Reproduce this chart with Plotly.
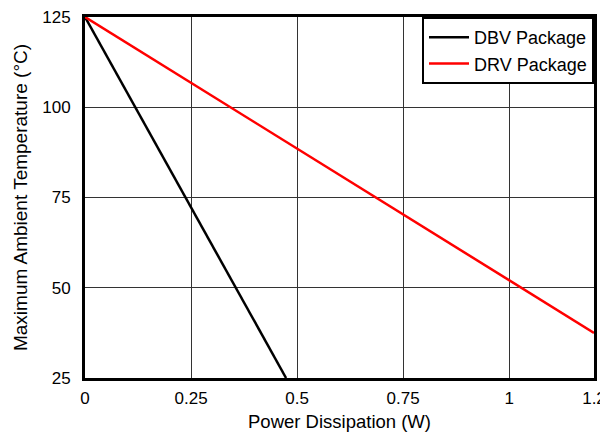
import plotly.graph_objects as go

# power dissipation (W) vs max ambient temperature (°C)
dbv_power = [0, 0.474]
dbv_temp = [125, 25]
drv_power = [0, 1.2]
drv_temp = [125, 37.5]

x_ticks = [0, 0.25, 0.5, 0.75, 1, 1.2]
x_ticktext = ["0", "0.25", "0.5", "0.75", "1", "1.2"]
y_ticks = [25, 50, 75, 100, 125]

FONT = "Liberation Sans, Arial, sans-serif"

fig = go.Figure()
fig.add_trace(go.Scatter(x=dbv_power, y=dbv_temp, mode="lines", name="DBV Package",
                         line=dict(color="black", width=2.5)))
fig.add_trace(go.Scatter(x=drv_power, y=drv_temp, mode="lines", name="DRV Package",
                         line=dict(color="#ff0000", width=2.5)))

# page body has an 8px margin, so the figure is 8px smaller and margins shifted
fig.update_layout(
    width=600, height=424,
    margin=dict(l=77, r=14, t=9, b=54),
    plot_bgcolor="white", paper_bgcolor="white",
    font=dict(family=FONT, size=17, color="black"),
    showlegend=True,
    legend=dict(x=1, y=1, xanchor="right", yanchor="top",
                bordercolor="black", borderwidth=2, bgcolor="white",
                font=dict(family=FONT, size=18, color="black"),
                itemwidth=40, tracegroupgap=0),
    xaxis=dict(range=[0, 1.2], tickvals=x_ticks, ticktext=x_ticktext,
               showgrid=True, gridcolor="#333", gridwidth=1,
               showline=True, linecolor="black", linewidth=3, mirror=True,
               ticks="", zeroline=False, ticklabelstandoff=3, automargin=False,
               ticklabeloverflow="allow",
               title=dict(text="Power Dissipation (W)", font=dict(size=18.5), standoff=10)),
    yaxis=dict(range=[25, 125], tickvals=y_ticks,
               showgrid=True, gridcolor="#333", gridwidth=1,
               showline=True, linecolor="black", linewidth=3, mirror=True,
               ticks="", zeroline=False, ticklabelstandoff=8, automargin=False,
               ticklabeloverflow="allow",
               title=dict(text="Maximum Ambient Temperature (°C)", font=dict(size=19), standoff=10)),
)

fig.write_html("out.html")
